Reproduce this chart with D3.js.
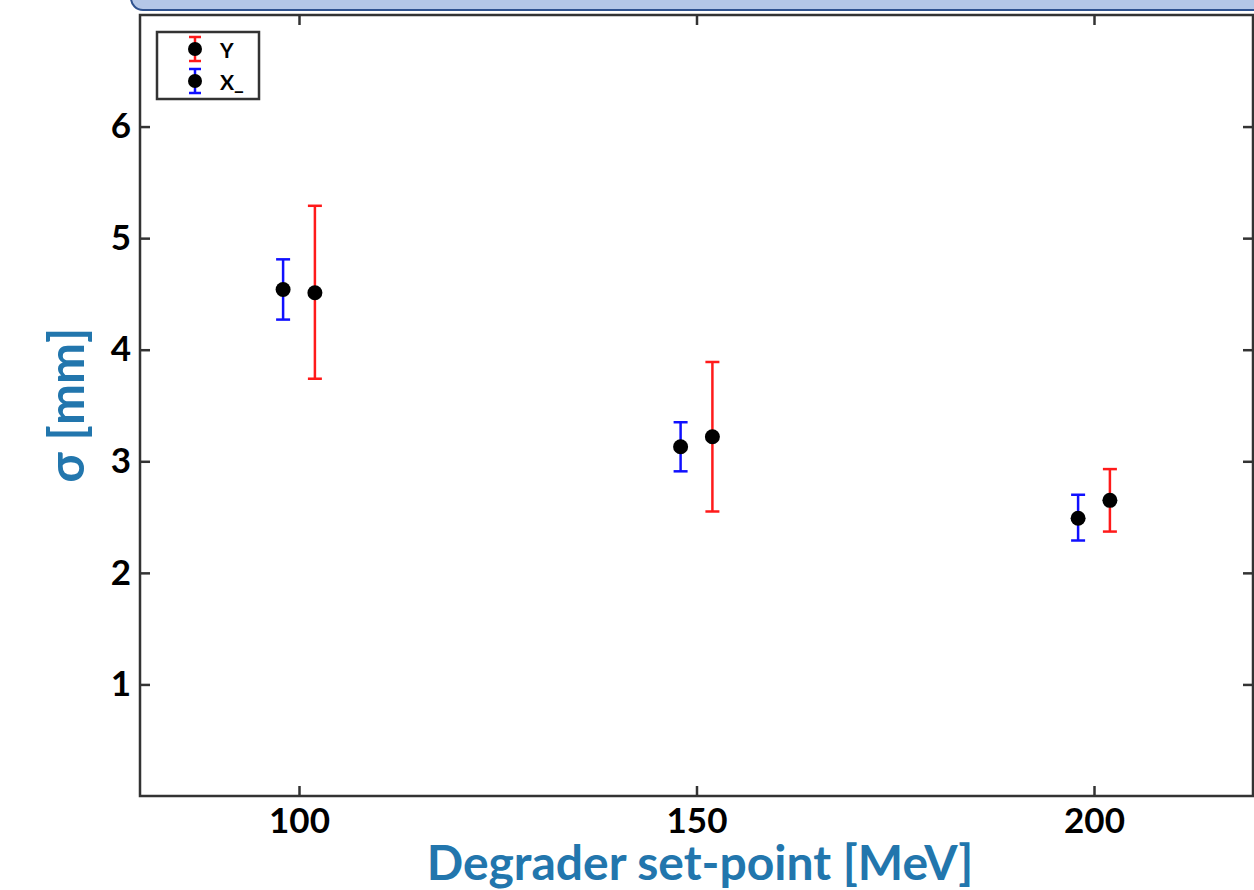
<!DOCTYPE html>
<html>
<head>
<meta charset="utf-8">
<script src="https://cdn.jsdelivr.net/npm/d3@7"></script>
<style>
  body { margin: 0; background: #fff; }
  svg { display: block; }
  text { font-family: Lato, "Open Sans", sans-serif; font-weight: bold; }
</style>
</head>
<body>
<div id="chart"></div>
<script>
const xTicks = [100, 150, 200];
const yTicks = [1, 2, 3, 4, 5, 6];

// X_ series (blue)
const xMinusE = [98, 148, 198];
const xMinusSigma = [4.54, 3.13, 2.49];
const xMinusLo = [4.27, 2.91, 2.29];
const xMinusHi = [4.81, 3.35, 2.70];

// Y series (red)
const yE = [102, 152, 202];
const ySigma = [4.51, 3.22, 2.65];
const yLo = [3.74, 2.55, 2.37];
const yHi = [5.29, 3.89, 2.93];

const width = 1254, height = 890;
const plotLeft = 140, plotRight = 1253, plotTop = 15, plotBottom = 796;

const svg = d3.select('#chart').append('svg')
    .attr('width', width)
    .attr('height', height);

// slide title box, cut off at the top
svg.append('rect')
    .attr('x', 131).attr('y', -40)
    .attr('width', 1200).attr('height', 50)
    .attr('rx', 12)
    .attr('fill', '#b4c7e7')
    .attr('stroke', '#2f528f')
    .attr('stroke-width', 2);

const x = d3.scaleLinear().domain([80, 220]).range([plotLeft, plotRight]);
const y = d3.scaleLinear().domain([0, 7]).range([plotBottom, plotTop]);

const axisColor = '#333';
const tickLen = 10;

// axes with inward ticks on all four sides
const gx = svg.append('g').attr('transform', `translate(0,${plotBottom})`)
    .call(d3.axisBottom(x).tickValues(xTicks).tickSizeInner(-tickLen).tickSizeOuter(0).tickPadding(12));
const gxTop = svg.append('g').attr('transform', `translate(0,${plotTop})`)
    .call(d3.axisTop(x).tickValues(xTicks).tickSizeInner(-tickLen).tickSizeOuter(0).tickFormat(''));
const gy = svg.append('g').attr('transform', `translate(${plotLeft},0)`)
    .call(d3.axisLeft(y).tickValues(yTicks).tickFormat(d3.format('d')).tickSizeInner(-tickLen).tickSizeOuter(0).tickPadding(9));
const gyRight = svg.append('g').attr('transform', `translate(${plotRight},0)`)
    .call(d3.axisRight(y).tickValues(yTicks).tickSizeInner(-tickLen).tickSizeOuter(0).tickFormat(''));

[gx, gxTop, gy, gyRight].forEach(g => {
    g.select('.domain').remove();
    g.selectAll('.tick line').attr('stroke', axisColor).attr('stroke-width', 2.5);
    g.selectAll('.tick text')
        .attr('fill', '#000')
        .attr('font-size', 35)
        .attr('font-family', 'Lato, "Open Sans", sans-serif')
        .attr('font-weight', 'bold');
});

svg.append('rect')
    .attr('x', plotLeft).attr('y', plotTop)
    .attr('width', plotRight - plotLeft).attr('height', plotBottom - plotTop)
    .attr('fill', 'none')
    .attr('stroke', axisColor)
    .attr('stroke-width', 2.5);

const capW = 7;
const drawSeries = (es, vals, lo, hi, color) => {
    const g = svg.append('g');
    const pts = es.map((e, i) => ({e, v: vals[i], lo: lo[i], hi: hi[i]}));
    g.append('g').selectAll('line').data(pts).join('line')
        .attr('x1', d => x(d.e)).attr('x2', d => x(d.e))
        .attr('y1', d => y(d.lo)).attr('y2', d => y(d.hi))
        .attr('stroke', color).attr('stroke-width', 2.5);
    g.append('g').selectAll('line').data(pts).join('line')
        .attr('x1', d => x(d.e) - capW).attr('x2', d => x(d.e) + capW)
        .attr('y1', d => y(d.lo)).attr('y2', d => y(d.lo))
        .attr('stroke', color).attr('stroke-width', 2.5);
    g.append('g').selectAll('line').data(pts).join('line')
        .attr('x1', d => x(d.e) - capW).attr('x2', d => x(d.e) + capW)
        .attr('y1', d => y(d.hi)).attr('y2', d => y(d.hi))
        .attr('stroke', color).attr('stroke-width', 2.5);
    g.append('g').selectAll('circle').data(pts).join('circle')
        .attr('cx', d => x(d.e)).attr('cy', d => y(d.v))
        .attr('r', 7.5).attr('fill', '#000');
};

drawSeries(xMinusE, xMinusSigma, xMinusLo, xMinusHi, '#1010ff');
drawSeries(yE, ySigma, yLo, yHi, '#ff1a1a');

// legend
const legend = svg.append('g');
legend.append('rect')
    .attr('x', 157).attr('y', 32)
    .attr('width', 102).attr('height', 67)
    .attr('fill', '#fff')
    .attr('stroke', axisColor)
    .attr('stroke-width', 2.5);

const legendItems = [
    {label: 'Y', color: '#ff1a1a', cy: 49},
    {label: 'X_', color: '#1010ff', cy: 81}
];
legendItems.forEach(d => {
    const lx = 195;
    legend.append('line')
        .attr('x1', lx).attr('x2', lx).attr('y1', d.cy - 12).attr('y2', d.cy + 12)
        .attr('stroke', d.color).attr('stroke-width', 2.5);
    [d.cy - 12, d.cy + 12].forEach(cy => {
        legend.append('line')
            .attr('x1', lx - 6).attr('x2', lx + 6).attr('y1', cy).attr('y2', cy)
            .attr('stroke', d.color).attr('stroke-width', 2.5);
    });
    legend.append('circle').attr('cx', lx).attr('cy', d.cy).attr('r', 7).attr('fill', '#000');
    legend.append('text')
        .attr('x', 220).attr('y', d.cy + 9)
        .attr('font-size', 21)
        .text(d.label);
});

// axis labels
const labelColor = '#2276ad';
svg.append('text')
    .attr('x', 700).attr('y', 880)
    .attr('text-anchor', 'middle')
    .attr('font-size', 48)
    .attr('fill', labelColor)
    .text('Degrader set-point [MeV]');

svg.append('text')
    .attr('transform', 'translate(84,405) rotate(-90)')
    .attr('text-anchor', 'middle')
    .attr('font-size', 49)
    .attr('fill', labelColor)
    .text('σ [mm]');
</script>
</body>
</html>
